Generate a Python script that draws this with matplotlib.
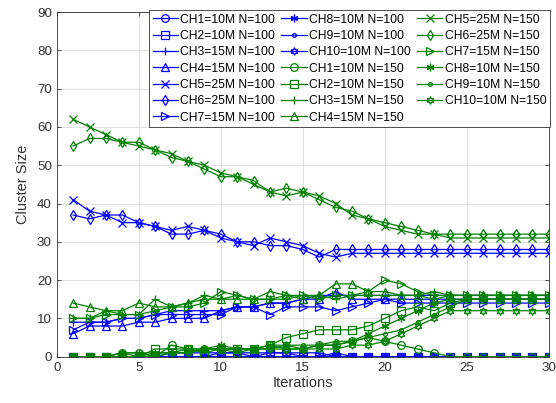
import matplotlib.pyplot as plt

plt.rcParams['font.family'] = ['Liberation Sans', 'DejaVu Sans']

# Datos: tamaño de cluster por iteración
iteraciones = list(range(1, 31))

# N=100 (azul)
b_ch1 = [0, 0, 0, 0, 0, 0, 0, 0, 0, 0, 0, 0, 1, 1, 1, 1, 0, 0, 0, 0, 0, 0, 0, 0, 0, 0, 0, 0, 0, 0]
b_ch2 = [0, 0, 0, 0, 0, 0, 1, 1, 1, 1, 1, 1, 1, 1, 0, 0, 0, 0, 0, 0, 0, 0, 0, 0, 0, 0, 0, 0, 0, 0]
b_ch3 = [9, 9, 9, 10, 10, 11, 12, 12, 12, 12, 13, 13, 14, 14, 15, 16, 16, 16, 16, 16, 16, 16, 16, 16, 16, 16, 16, 16, 16, 16]
b_ch4 = [6, 8, 8, 8, 9, 9, 10, 10, 10, 12, 13, 13, 14, 14, 15, 15, 17, 15, 15, 15, 15, 15, 15, 15, 15, 15, 15, 15, 15, 15]
b_ch5 = [41, 38, 37, 35, 35, 34, 33, 34, 33, 31, 30, 29, 31, 30, 29, 27, 26, 27, 27, 27, 27, 27, 27, 27, 27, 27, 27, 27, 27, 27]
b_ch6 = [37, 36, 37, 37, 35, 34, 32, 32, 33, 32, 30, 30, 29, 29, 28, 26, 28, 28, 28, 28, 28, 28, 28, 28, 28, 28, 28, 28, 28, 28]
b_ch7 = [7, 9, 9, 10, 10, 11, 11, 11, 11, 11, 13, 13, 11, 13, 13, 13, 12, 13, 14, 15, 14, 14, 14, 14, 14, 14, 14, 14, 14, 14]
b_ch8 = [0, 0, 0, 0, 0, 0, 0, 0, 0, 0, 0, 0, 0, 0, 0, 0, 1, 0, 0, 0, 0, 0, 0, 0, 0, 0, 0, 0, 0, 0]
b_ch9 = [0, 0, 0, 0, 0, 0, 0, 0, 0, 0, 0, 0, 0, 0, 0, 0, 0, 0, 0, 0, 0, 0, 0, 0, 0, 0, 0, 0, 0, 0]
b_ch10 = [0, 0, 0, 0, 0, 0, 0, 0, 0, 1, 1, 0, 0, 0, 0, 0, 0, 0, 0, 0, 0, 0, 0, 0, 0, 0, 0, 0, 0, 0]

# N=150 (verde)
g_ch1 = [0, 0, 0, 1, 1, 0, 3, 2, 2, 2, 1, 2, 3, 2, 2, 3, 3, 4, 5, 4, 3, 2, 1, 0, 0, 0, 0, 0, 0, 0]
g_ch2 = [0, 0, 0, 0, 0, 2, 2, 2, 1, 2, 2, 2, 3, 5, 6, 7, 7, 7, 8, 10, 12, 13, 12, 14, 15, 15, 15, 15, 15, 15]
g_ch3 = [10, 10, 12, 11, 11, 15, 13, 14, 16, 15, 16, 15, 15, 15, 16, 16, 15, 16, 16, 16, 16, 16, 17, 16, 16, 16, 16, 16, 16, 16]
g_ch4 = [14, 13, 12, 12, 14, 13, 13, 14, 15, 15, 15, 15, 17, 16, 15, 16, 19, 19, 17, 17, 16, 16, 15, 16, 16, 16, 16, 16, 16, 16]
g_ch5 = [62, 60, 58, 56, 55, 54, 53, 51, 50, 48, 47, 45, 43, 42, 43, 42, 40, 37, 36, 34, 33, 32, 32, 31, 31, 31, 31, 31, 31, 31]
g_ch6 = [55, 57, 57, 56, 56, 54, 52, 51, 49, 47, 47, 46, 43, 44, 43, 41, 39, 38, 36, 35, 34, 33, 32, 32, 32, 32, 32, 32, 32, 32]
g_ch7 = [10, 10, 11, 11, 11, 12, 13, 13, 14, 17, 16, 15, 15, 16, 16, 15, 16, 16, 17, 20, 19, 17, 16, 16, 16, 16, 16, 16, 16, 16]
g_ch8 = [0, 0, 0, 1, 1, 1, 1, 2, 2, 3, 2, 2, 3, 3, 2, 3, 3, 4, 6, 8, 10, 12, 14, 15, 15, 15, 15, 15, 15, 15]
g_ch9 = [0, 0, 0, 0, 0, 1, 1, 1, 2, 2, 2, 2, 2, 3, 3, 3, 4, 4, 5, 6, 7, 9, 11, 13, 15, 15, 15, 15, 15, 15]
g_ch10 = [0, 0, 0, 1, 0, 0, 1, 1, 2, 2, 2, 2, 2, 2, 2, 2, 2, 3, 3, 4, 6, 8, 10, 12, 12, 12, 12, 12, 12, 12]

etiquetas = ['CH1=10M', 'CH2=10M', 'CH3=15M', 'CH4=15M', 'CH5=25M',
             'CH6=25M', 'CH7=15M', 'CH8=10M', 'CH9=10M', 'CH10=10M']
marcadores = ['o', 's', '+', '^', 'x', 'd', '>', (6, 2, 0), '.', (6, 1, 0)]

series_100 = [b_ch1, b_ch2, b_ch3, b_ch4, b_ch5, b_ch6, b_ch7, b_ch8, b_ch9, b_ch10]
series_150 = [g_ch1, g_ch2, g_ch3, g_ch4, g_ch5, g_ch6, g_ch7, g_ch8, g_ch9, g_ch10]

fig = plt.figure(figsize=(5.56, 4.03), dpi=100)
ax = fig.add_axes([0.102, 0.115, 0.885, 0.855])

for serie, color, n in [(series_100, '#0000ff', 100), (series_150, '#008000', 150)]:
    for datos, etiqueta, m in zip(serie, etiquetas, marcadores):
        ax.plot(iteraciones, datos, color=color, marker=m, markersize=5.5,
                markerfacecolor='none', markeredgewidth=0.9, linewidth=0.9,
                label=f'{etiqueta} N={n}')

ax.set_xlim(0, 30)
ax.set_ylim(0, 90)
ax.set_xticks(range(0, 31, 5))
ax.set_yticks(range(0, 91, 10))
ax.grid(True, color='#dedede', linewidth=0.7)
ax.set_axisbelow(True)
ax.tick_params(direction='in', top=True, right=True, labelsize=9.6,
               colors='#333333', length=3, width=0.6)
for s in ax.spines.values():
    s.set_color('#333333')
    s.set_linewidth(0.6)

ax.set_xlabel('Iterations', fontsize=10.5, color='#333333', labelpad=2)
ax.set_ylabel('Cluster Size', fontsize=10.5, color='#333333', labelpad=5)

leg = ax.legend(loc='upper right', bbox_to_anchor=(550 / 556, 1 - 10 / 403),
                bbox_transform=fig.transFigure, borderaxespad=0, ncol=3,
                fontsize=8.7, handlelength=2.1, handletextpad=0.2,
                columnspacing=0.5, labelspacing=0.36, borderpad=0.3,
                fancybox=False, framealpha=1, edgecolor='#333333')
leg.get_frame().set_linewidth(0.6)

# Guardar la imagen
plt.savefig('out.png', dpi=100)
